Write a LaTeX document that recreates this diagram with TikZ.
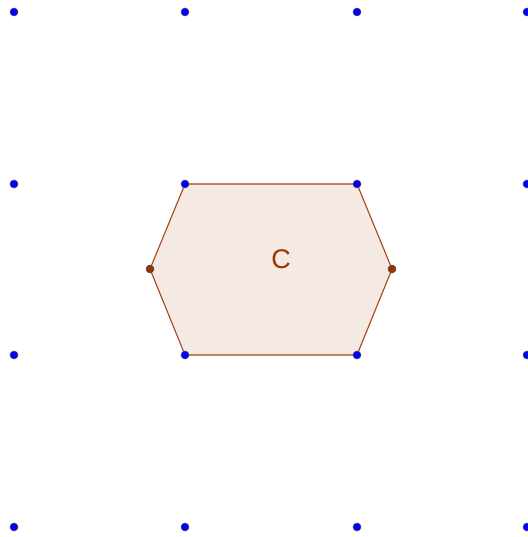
\documentclass[tikz,border=0pt]{standalone}
\usepackage{fontspec}
\setmainfont{Liberation Sans}
\definecolor{edge}{RGB}{166,70,25}
\definecolor{hexfill}{RGB}{245,233,228}
\definecolor{lab}{RGB}{160,50,0}
\definecolor{gridpt}{RGB}{0,0,255}
\definecolor{vpt}{RGB}{153,51,0}
\tikzset{
  gpt/.style={circle,fill=gridpt,draw=black!70,line width=0.5pt,inner sep=0pt,minimum size=8pt},
  bpt/.style={circle,fill=vpt,draw=black!70,line width=0.5pt,inner sep=0pt,minimum size=8pt}
}
\begin{document}
\begin{tikzpicture}[x=1pt,y=-1pt]
\useasboundingbox (0,0) rectangle (527,537);
\fill[white] (0,0) rectangle (527,537);
\coordinate (A) at (185,184);
\coordinate (B) at (357,184);
\coordinate (R) at (392,269);
\coordinate (D) at (357,355);
\coordinate (E) at (185,355);
\coordinate (L) at (150,269);
\filldraw[fill=hexfill,draw=edge,line width=1.1pt,line join=round] (A) -- (B) -- (R) -- (D) -- (E) -- (L) -- cycle;
\node[text=lab,font=\fontsize{27}{27}\selectfont] (lbl) at (281,259) {C};
\foreach \x [count=\i] in {14,185,357,527}{
  \foreach \y [count=\j] in {12,184,355,527}{
    \node[gpt] (g\i\j) at (\x,\y) {};
  }
}
\node[bpt] (pl) at (L) {};
\node[bpt] (pr) at (R) {};
\end{tikzpicture}
\end{document}
